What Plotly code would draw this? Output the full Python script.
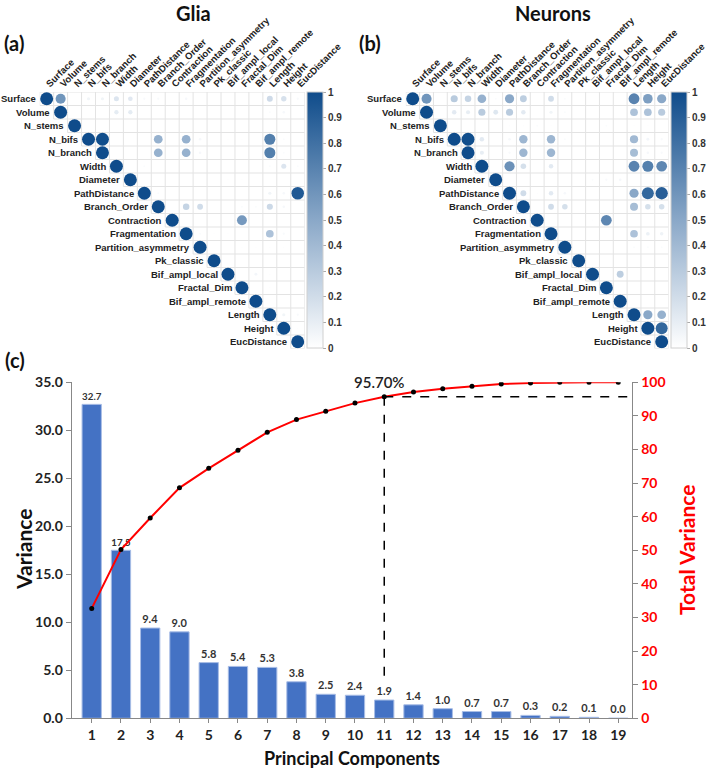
import numpy as np
import plotly.graph_objects as go

W, H = 709, 772

variables = ["Surface", "Volume", "N_stems", "N_bifs", "N_branch", "Width", "Diameter",
             "PathDistance", "Branch_Order", "Contraction", "Fragmentation",
             "Partition_asymmetry", "Pk_classic", "Bif_ampl_local", "Fractal_Dim",
             "Bif_ampl_remote", "Length", "Height", "EucDistance"]

# upper-triangle correlations (row, column, r); diagonal = 1
glia_pairs = [
    ("Surface", "Volume", 0.60), ("Surface", "N_bifs", 0.06), ("Surface", "N_branch", 0.06),
    ("Surface", "Width", 0.15), ("Surface", "Diameter", 0.13), ("Surface", "PathDistance", 0.03),
    ("Surface", "Branch_Order", 0.03), ("Surface", "Fragmentation", 0.04), ("Surface", "Length", 0.21),
    ("Surface", "Height", 0.17), ("Surface", "EucDistance", 0.03),
    ("Volume", "Width", 0.11), ("Volume", "Diameter", 0.11), ("Volume", "Length", 0.02),
    ("Volume", "Height", 0.04),
    ("N_bifs", "N_branch", 0.99), ("N_bifs", "Branch_Order", 0.45), ("N_bifs", "Fragmentation", 0.45),
    ("N_bifs", "Partition_asymmetry", 0.04), ("N_bifs", "Bif_ampl_local", 0.01),
    ("N_bifs", "Fractal_Dim", 0.01), ("N_bifs", "Length", 0.72), ("N_bifs", "Height", 0.02),
    ("N_branch", "Branch_Order", 0.45), ("N_branch", "Fragmentation", 0.45),
    ("N_branch", "Partition_asymmetry", 0.04), ("N_branch", "Length", 0.72), ("N_branch", "Height", 0.02),
    ("Width", "PathDistance", 0.02), ("Width", "Length", 0.02), ("Width", "Height", 0.15),
    ("Width", "EucDistance", 0.02),
    ("Diameter", "Bif_ampl_local", 0.01), ("Diameter", "Fractal_Dim", 0.01),
    ("PathDistance", "Branch_Order", 0.02), ("PathDistance", "Length", 0.06),
    ("PathDistance", "Height", 0.04), ("PathDistance", "EucDistance", 0.93),
    ("Branch_Order", "Fragmentation", 0.25), ("Branch_Order", "Partition_asymmetry", 0.20),
    ("Branch_Order", "Fractal_Dim", 0.02), ("Branch_Order", "Bif_ampl_remote", 0.02),
    ("Branch_Order", "Length", 0.22), ("Branch_Order", "Height", 0.04),
    ("Contraction", "Fractal_Dim", 0.58),
    ("Fragmentation", "Partition_asymmetry", 0.02), ("Fragmentation", "Pk_classic", 0.01),
    ("Fragmentation", "Bif_ampl_local", 0.01), ("Fragmentation", "Length", 0.35),
    ("Fragmentation", "Height", 0.03),
    ("Partition_asymmetry", "Fractal_Dim", 0.01), ("Partition_asymmetry", "Bif_ampl_remote", 0.01),
    ("Partition_asymmetry", "Length", 0.01), ("Partition_asymmetry", "Height", 0.01),
    ("Bif_ampl_local", "Bif_ampl_remote", 0.05), ("Bif_ampl_local", "Length", 0.01),
    ("Fractal_Dim", "Length", 0.01),
    ("Length", "Height", 0.06), ("Length", "EucDistance", 0.03),
    ("Height", "EucDistance", 0.01),
]

neuron_pairs = [
    ("Surface", "Volume", 0.60), ("Surface", "N_bifs", 0.30), ("Surface", "N_branch", 0.25),
    ("Surface", "Width", 0.45), ("Surface", "Diameter", 0.02), ("Surface", "PathDistance", 0.50),
    ("Surface", "Branch_Order", 0.28), ("Surface", "Fragmentation", 0.20),
    ("Surface", "Partition_asymmetry", 0.02), ("Surface", "Length", 0.70),
    ("Surface", "Height", 0.55), ("Surface", "EucDistance", 0.50),
    ("Volume", "N_bifs", 0.12), ("Volume", "N_branch", 0.10), ("Volume", "Width", 0.30),
    ("Volume", "Diameter", 0.14), ("Volume", "PathDistance", 0.30), ("Volume", "Branch_Order", 0.12),
    ("Volume", "Fragmentation", 0.06), ("Volume", "Partition_asymmetry", 0.02),
    ("Volume", "Length", 0.35), ("Volume", "Height", 0.35), ("Volume", "EucDistance", 0.30),
    ("N_stems", "PathDistance", 0.01), ("N_stems", "Branch_Order", 0.01),
    ("N_stems", "Contraction", 0.02), ("N_stems", "Fragmentation", 0.01),
    ("N_stems", "Fractal_Dim", 0.02), ("N_stems", "Length", 0.01), ("N_stems", "Height", 0.01),
    ("N_bifs", "N_branch", 0.99), ("N_bifs", "Width", 0.12), ("N_bifs", "PathDistance", 0.04),
    ("N_bifs", "Branch_Order", 0.42), ("N_bifs", "Fragmentation", 0.42),
    ("N_bifs", "Partition_asymmetry", 0.02), ("N_bifs", "Length", 0.40),
    ("N_bifs", "Height", 0.05), ("N_bifs", "EucDistance", 0.03),
    ("N_branch", "Width", 0.10), ("N_branch", "PathDistance", 0.03),
    ("N_branch", "Branch_Order", 0.42), ("N_branch", "Fragmentation", 0.42),
    ("N_branch", "Length", 0.38), ("N_branch", "Height", 0.04), ("N_branch", "EucDistance", 0.03),
    ("Width", "PathDistance", 0.62), ("Width", "Branch_Order", 0.18), ("Width", "Fragmentation", 0.12),
    ("Width", "Length", 0.70), ("Width", "Height", 0.72), ("Width", "EucDistance", 0.68),
    ("Diameter", "Bif_ampl_local", 0.02), ("Diameter", "Fractal_Dim", 0.03),
    ("Diameter", "Bif_ampl_remote", 0.04),
    ("PathDistance", "Branch_Order", 0.20), ("PathDistance", "Contraction", 0.01),
    ("PathDistance", "Fragmentation", 0.12), ("PathDistance", "Partition_asymmetry", 0.04),
    ("PathDistance", "Length", 0.50), ("PathDistance", "Height", 0.85),
    ("PathDistance", "EucDistance", 0.90),
    ("Branch_Order", "Fragmentation", 0.20), ("Branch_Order", "Partition_asymmetry", 0.18),
    ("Branch_Order", "Length", 0.38), ("Branch_Order", "Height", 0.18),
    ("Branch_Order", "EucDistance", 0.18),
    ("Contraction", "Bif_ampl_local", 0.01), ("Contraction", "Fractal_Dim", 0.68),
    ("Fragmentation", "Length", 0.35), ("Fragmentation", "Height", 0.08),
    ("Fragmentation", "EucDistance", 0.07),
    ("Partition_asymmetry", "Length", 0.02), ("Partition_asymmetry", "Height", 0.02),
    ("Partition_asymmetry", "EucDistance", 0.02),
    ("Bif_ampl_local", "Bif_ampl_remote", 0.28),
    ("Length", "Height", 0.50), ("Length", "EucDistance", 0.45),
    ("Height", "EucDistance", 0.85),
]

components = list(range(1, 20))
variance = [32.7, 17.5, 9.4, 9.0, 5.8, 5.4, 5.3, 3.8, 2.5, 2.4, 1.9, 1.4, 1.0, 0.7, 0.7, 0.3, 0.2, 0.1, 0.0]
cumulative = [32.7, 50.2, 59.6, 68.6, 74.4, 79.8, 85.1, 88.9, 91.4, 93.8, 95.7, 97.1, 98.1, 98.8,
              99.5, 99.8, 100.0, 100.0, 100.0]
threshold_label = "95.70%"

def px(x):
    return x / W

def py(y):
    return 1 - y / H

colorscale = [[0.0, "#ffffff"], [0.5, "#8aa8c8"], [1.0, "#0f4c8b"]]
LBL = "Liberation Sans, Arial, sans-serif"
CAL = "Lato, Open Sans, sans-serif"
n = len(variables)
idx = {v: i for i, v in enumerate(variables)}

fig = go.Figure()

def add_matrix(pairs, xa, ya, cb_x):
    # grid of the upper triangle
    gx, gy = [], []
    for k in range(n + 1):
        x0 = max(k - 1, 0) - 0.5
        gx += [x0, n - 0.5, None]
        gy += [k - 0.5, k - 0.5, None]
    for k in range(n + 1):
        y1 = min(k, n - 1) + 0.5
        gx += [k - 0.5, k - 0.5, None]
        gy += [-0.5, y1, None]
    fig.add_trace(go.Scatter(x=gx, y=gy, mode="lines", line=dict(color="#e3e3e3", width=1),
                             xaxis=xa, yaxis=ya, hoverinfo="skip", showlegend=False))
    xs, ys, vals = [], [], []
    for i in range(n):
        xs.append(i); ys.append(i); vals.append(1.0)
    for a, b, v in pairs:
        xs.append(idx[b]); ys.append(idx[a]); vals.append(v)
    sizes = [13.0 * np.sqrt(abs(v)) for v in vals]
    fig.add_trace(go.Scatter(
        x=xs, y=ys, mode="markers", xaxis=xa, yaxis=ya, showlegend=False,
        marker=dict(size=sizes, color=vals, colorscale=colorscale, cmin=0, cmax=1,
                    line=dict(width=0), opacity=1,
                    showscale=True,
                    colorbar=dict(x=cb_x, xanchor="left", xpad=0, ypad=0,
                                  y=py(220), yanchor="middle", len=256 / H, lenmode="fraction",
                                  thickness=16, outlinewidth=1, outlinecolor="#d0d0d0",
                                  tickvals=[i / 10 for i in range(11)],
                                  ticktext=["0"] + [f"{i/10:.1f}" for i in range(1, 10)] + ["1"],
                                  ticks="outside", ticklen=3, tickcolor="#aaaaaa",
                                  tickfont=dict(family=LBL, size=10, color="#333", weight="bold"))),
        hovertemplate="%{x} %{y}: %{marker.color}<extra></extra>"))
    # row labels next to diagonal
    for i, v in enumerate(variables):
        fig.add_annotation(x=i - 0.45, y=i, xref=xa, yref=ya, text=v, showarrow=False,
                           xanchor="right", yanchor="middle", xshift=-2,
                           font=dict(family=LBL, size=9.5, color="#222", weight="bold"))

add_matrix(glia_pairs, "x", "y", px(307))
add_matrix(neuron_pairs, "x2", "y2", px(671))

# PCA panel
fig.add_trace(go.Bar(x=components, y=variance, xaxis="x3", yaxis="y3", width=0.66,
                     marker=dict(color="#4472C4", line=dict(color="#a8bde6", width=1)),
                     text=[f"{v:.1f}" for v in variance], textposition="outside",
                     textfont=dict(family=CAL, size=11, color="#333", weight="bold"),
                     cliponaxis=False, showlegend=False))
fig.add_trace(go.Scatter(x=components, y=cumulative, xaxis="x3", yaxis="y4", mode="lines+markers",
                         line=dict(color="#ff0000", width=2),
                         marker=dict(color="black", size=5), showlegend=False))

k95 = next(i for i, c in enumerate(cumulative) if c >= 95)
cx, cy = components[k95], cumulative[k95]
xr = [0.316, 19.48]
fig.add_shape(type="line", xref="x3", yref="y4", x0=cx, x1=xr[1], y0=cy, y1=cy,
              line=dict(color="black", width=1.5, dash="dash"))
fig.add_shape(type="line", xref="x3", yref="y4", x0=cx, x1=cx, y0=cy, y1=3.65 / 35 * 100,
              line=dict(color="black", width=1.5, dash="dash"))
fig.add_annotation(x=cx - 0.17, y=cy, xref="x3", yref="y4", text=threshold_label, showarrow=False,
                   yanchor="bottom", yshift=4,
                   font=dict(family=CAL, size=15, color="#222", weight=600))

ydom = [py(348.5), py(92)]
fig.update_layout(
    width=W, height=H, margin=dict(l=0, r=0, t=0, b=0, autoexpand=False),
    paper_bgcolor="white", plot_bgcolor="rgba(0,0,0,0)",
    xaxis=dict(domain=[px(39.7), px(304.7)], range=[-0.5, n - 0.5], anchor="y", side="top",
               tickvals=list(range(n)), ticktext=variables, tickangle=-45, ticks="",
               showgrid=False, zeroline=False, showline=False,
               tickfont=dict(family=LBL, size=9.5, color="#222", weight="bold")),
    yaxis=dict(domain=ydom, range=[n - 0.5, -0.5], anchor="x", showticklabels=False,
               showgrid=False, zeroline=False, showline=False, ticks=""),
    xaxis2=dict(domain=[px(405.8), px(668.6)], range=[-0.5, n - 0.5], anchor="y2", side="top",
                tickvals=list(range(n)), ticktext=variables, tickangle=-45, ticks="",
                showgrid=False, zeroline=False, showline=False,
                tickfont=dict(family=LBL, size=9.5, color="#222", weight="bold")),
    yaxis2=dict(domain=ydom, range=[n - 0.5, -0.5], anchor="x2", showticklabels=False,
                showgrid=False, zeroline=False, showline=False, ticks=""),
    xaxis3=dict(domain=[px(71.7), px(632.3)], range=xr, anchor="y3",
                tickvals=components, ticks="outside", ticklen=4, tickcolor="#888",
                showline=True, linecolor="#888", linewidth=1.2, showgrid=False, zeroline=False,
                tickfont=dict(family=CAL, size=14, color="#222", weight="bold")),
    yaxis3=dict(domain=[0.0696, 0.5048], range=[0, 35], anchor="x3", dtick=5, tickformat=".1f",
                ticks="outside", ticklen=5, tickcolor="#888", showline=True, linecolor="#888",
                linewidth=1.2, showgrid=False, zeroline=False,
                tickfont=dict(family=CAL, size=14, color="#222", weight="bold")),
    yaxis4=dict(overlaying="y3", side="right", anchor="x3", range=[0, 100], dtick=10,
                ticks="outside", ticklen=5, tickcolor="#888", showline=True, linecolor="#888",
                linewidth=1.2, showgrid=False, zeroline=False,
                tickfont=dict(family=CAL, size=14, color="#ff0000", weight="bold")),
    bargap=0.3,
)

ann = [
    dict(text="Glia", x=px(193), y=py(13), size=20),
    dict(text="Neurons", x=px(553), y=py(13), size=20),
    dict(text="(a)", x=px(14), y=py(43), size=20),
    dict(text="(b)", x=px(370), y=py(43), size=20),
    dict(text="(c)", x=px(15), y=py(360), size=20),
]
for a in ann:
    fig.add_annotation(x=a["x"], y=a["y"], xref="paper", yref="paper", text=a["text"],
                       showarrow=False, xanchor="center", yanchor="middle",
                       font=dict(family=CAL, size=a["size"], color="#111", weight="bold"))

fig.add_annotation(x=px(23), y=py(550), xref="paper", yref="paper", text="Variance",
                   textangle=-90, showarrow=False, xanchor="center", yanchor="middle",
                   font=dict(family=CAL, size=21, color="#111", weight="bold"))
fig.add_annotation(x=px(686), y=py(550), xref="paper", yref="paper", text="Total Variance",
                   textangle=-90, showarrow=False, xanchor="center", yanchor="middle",
                   font=dict(family=CAL, size=21, color="#ff0000", weight="bold"))
fig.add_annotation(x=px(352), y=py(758), xref="paper", yref="paper", text="Principal Components",
                   showarrow=False, xanchor="center", yanchor="middle",
                   font=dict(family=CAL, size=18, color="#111", weight="bold"))

fig.write_html("out.html", config={"displayModeBar": False},
               post_script="document.body.style.margin='0';document.body.style.padding='0';")
